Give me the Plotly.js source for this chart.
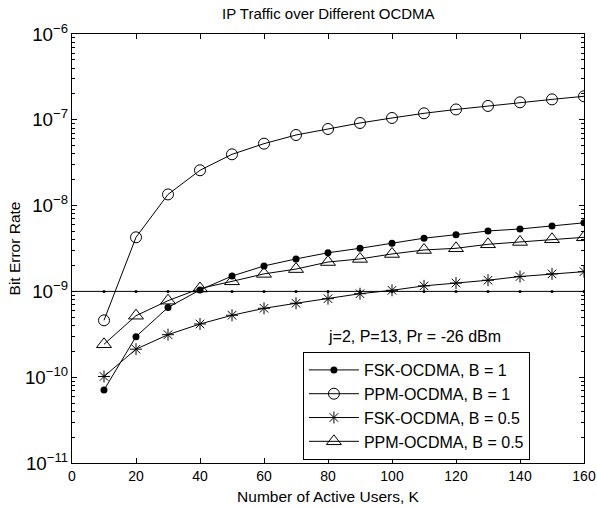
<!DOCTYPE html>
<html>
<head>
<meta charset="utf-8">
<script src="https://cdn.plot.ly/plotly-3.0.1.min.js"></script>
<style>html,body{margin:0;padding:0;background:#fff;}#chart{width:597px;height:508px;}</style>
</head>
<body>
<div id="chart"></div>
<script>
const users = [10, 20, 30, 40, 50, 60, 70, 80, 90, 100, 110, 120, 130, 140, 150, 160];
const fskB1 = [7.1e-11, 2.97e-10, 6.5e-10, 1.04e-9, 1.51e-9, 1.98e-9, 2.39e-9, 2.82e-9, 3.18e-9, 3.63e-9, 4.17e-9, 4.58e-9, 5.06e-9, 5.34e-9, 5.78e-9, 6.3e-9];
const ppmB1 = [4.6e-10, 4.27e-9, 1.35e-8, 2.58e-8, 3.96e-8, 5.27e-8, 6.65e-8, 7.81e-8, 9.18e-8, 1.05e-7, 1.19e-7, 1.32e-7, 1.45e-7, 1.6e-7, 1.73e-7, 1.88e-7];
const fskB05 = [1.02e-10, 2.12e-10, 3.13e-10, 4.17e-10, 5.27e-10, 6.35e-10, 7.27e-10, 8.22e-10, 9.4e-10, 1.03e-9, 1.16e-9, 1.25e-9, 1.35e-9, 1.49e-9, 1.6e-9, 1.7e-9];
const ppmB05 = [2.42e-10, 5.21e-10, 7.8e-10, 1.08e-9, 1.31e-9, 1.6e-9, 1.82e-9, 2.2e-9, 2.39e-9, 2.73e-9, 3.04e-9, 3.18e-9, 3.54e-9, 3.77e-9, 4.05e-9, 4.27e-9];
const thresholdX = [0, 160];
const thresholdY = [1e-9, 1e-9];
const thresholdDots = [1e-9, 1e-9, 1e-9, 1e-9, 1e-9, 1e-9, 1e-9, 1e-9, 1e-9, 1e-9, 1e-9, 1e-9, 1e-9, 1e-9, 1e-9, 1e-9];
const seriesNames = ['FSK-OCDMA, B = 1', 'PPM-OCDMA, B = 1', 'FSK-OCDMA, B = 0.5', 'PPM-OCDMA, B = 0.5'];

const FONT = 'Liberation Sans, Arial, sans-serif';
const lineStyle = {color: '#000', width: 1};

const traces = [
  {x: thresholdX, y: thresholdY, yaxis: 'y2', mode: 'lines', line: lineStyle, showlegend: false, hoverinfo: 'skip'},
  {x: users, y: thresholdDots, mode: 'markers', marker: {symbol: 'circle', size: 3, color: '#000'}, showlegend: false},
  {x: users, y: fskB1, name: seriesNames[0], legendgroup: 'a', mode: 'lines+markers', line: lineStyle,
   marker: {symbol: 'circle', size: 7, color: '#000'}},
  {x: users, y: ppmB1, name: seriesNames[1], legendgroup: 'b', mode: 'lines+markers', line: lineStyle,
   marker: {symbol: 'circle-open', size: 11, color: '#000', line: {width: 1, color: '#000'}}},
  {x: users, y: fskB05, name: seriesNames[2], legendgroup: 'c', mode: 'lines+markers', line: lineStyle,
   marker: {symbol: 'asterisk-open', size: 10, color: '#000', line: {width: 1, color: '#000'}}},
  {x: users, y: ppmB05, name: seriesNames[3], legendgroup: 'd', mode: 'lines+markers', line: lineStyle,
   marker: {symbol: 'triangle-up-open', size: 13, color: '#000', line: {width: 1, color: '#000'}}}
];

const layout = {
  width: 597, height: 508,
  margin: {l: 72, r: 13, t: 34, b: 45},
  paper_bgcolor: '#fff', plot_bgcolor: '#fff',
  font: {family: FONT, size: 14, color: '#000'},
  showlegend: true,
  title: {text: 'IP Traffic over Different OCDMA', x: 0.55, xanchor: 'center', y: 0.972, yanchor: 'middle',
          font: {family: FONT, size: 15, color: '#000'}},
  xaxis: {
    range: [0, 160], dtick: 20, tick0: 0, tickmode: 'linear',
    showline: true, mirror: 'ticks', linecolor: '#000', linewidth: 1,
    ticks: 'inside', ticklen: 5, tickcolor: '#000', tickwidth: 1,
    showgrid: false, zeroline: false,
    tickfont: {family: FONT, size: 14, color: '#000'},
    title: {text: 'Number of Active Users, K', standoff: 8, font: {family: FONT, size: 15.5, color: '#000'}}
  },
  yaxis: {
    type: 'log', range: [-11, -6], dtick: 1,
    exponentformat: 'power',
    showline: true, mirror: 'ticks', linecolor: '#000', linewidth: 1,
    ticks: 'inside', ticklen: 5, tickcolor: '#000', tickwidth: 1,
    showgrid: false, zeroline: false,
    tickfont: {family: FONT, size: 15, color: '#000'},
    title: {text: 'Bit Error Rate', standoff: 0, font: {family: FONT, size: 15.5, color: '#000'}}
  },
  yaxis2: {
    type: 'log', range: [-11, -6], dtick: 'D1', overlaying: 'y', side: 'left',
    showline: true, linecolor: '#000', linewidth: 1, mirror: 'ticks',
    ticks: 'inside', ticklen: 3, tickcolor: '#000', tickwidth: 1,
    showticklabels: false, showgrid: false, zeroline: false
  },
  legend: {
    x: 0.451, y: 0.2587, xanchor: 'left', yanchor: 'top',
    bgcolor: '#fff', bordercolor: '#000', borderwidth: 1,
    font: {family: FONT, size: 16, color: '#000'},
    traceorder: 'grouped', tracegroupgap: 0, itemwidth: 50
  },
  annotations: [
    {text: 'j=2, P=13, Pr = -26 dBm', xref: 'paper', yref: 'paper', x: 0.668, y: 0.294,
     xanchor: 'center', yanchor: 'middle', showarrow: false, font: {family: FONT, size: 16, color: '#000'}}
  ]
};

Plotly.newPlot('chart', traces, layout, {displayModeBar: false, staticPlot: true});
</script>
</body>
</html>
